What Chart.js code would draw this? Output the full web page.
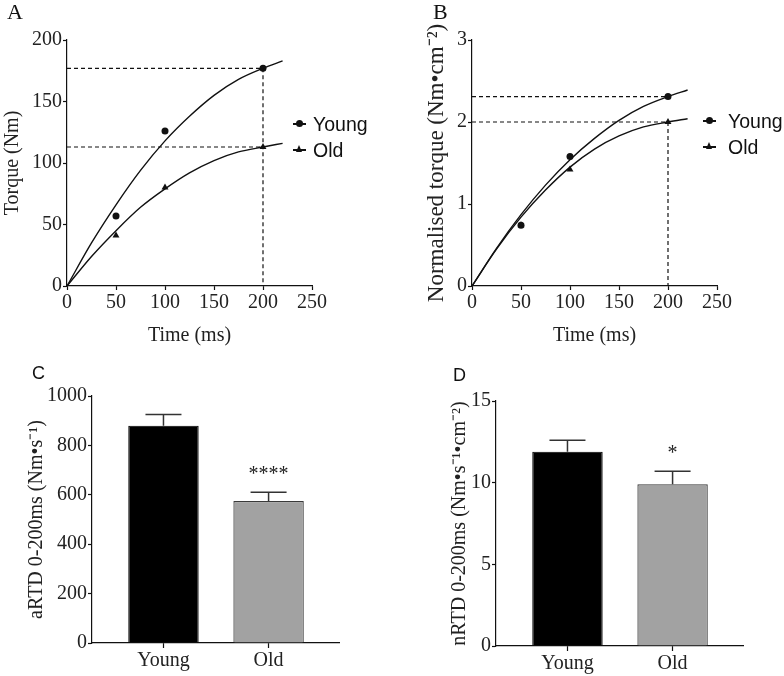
<!DOCTYPE html>
<html>
<head>
<meta charset="utf-8">
<script src="https://cdn.jsdelivr.net/npm/chart.js@4/dist/chart.umd.min.js"></script>
<style>
  body { margin: 0; background: #fff; }
  #fig { position: relative; width: 784px; height: 676px; overflow: hidden; }
  canvas, .lbl, .leg { position: absolute; }
  .lbl { font-family: 'Liberation Serif', serif; font-size: 22px; line-height: 22px; color: #111; }
  .lbl.sans { font-family: 'Liberation Sans', sans-serif; font-size: 18px; }
  .leg { font-family: 'Liberation Sans', sans-serif; font-size: 19.5px; line-height: 26px; color: #111; }
  .leg div { position: relative; height: 26px; }
  .leg i { position: absolute; left: 0; top: 12px; width: 13px; height: 1.5px; background: #111; }
  .leg b { position: absolute; }
  .leg b.dot { left: 3px; top: 9px; width: 7px; height: 7px; border-radius: 50%; background: #111; }
  .leg b.tri { left: 3px; top: 8px; width: 0; height: 0; border-left: 3.5px solid transparent;
               border-right: 3.5px solid transparent; border-bottom: 7px solid #111; }
</style>
</head>
<body>
<div id="fig">
  <canvas id="chartA" width="400" height="350" style="left:0;top:0"></canvas>
  <canvas id="chartB" width="384" height="350" style="left:400px;top:0"></canvas>
  <canvas id="chartC" width="400" height="326" style="left:0;top:350px"></canvas>
  <canvas id="chartD" width="384" height="326" style="left:400px;top:350px"></canvas>

  <div class="lbl" style="left:7px;top:1px">A</div>
  <div class="lbl" style="left:433px;top:1px">B</div>
  <div class="lbl sans" style="left:32px;top:362px">C</div>
  <div class="lbl sans" style="left:453px;top:364px">D</div>

  <div class="leg" style="left:293px;top:111px">
    <div style="padding-left:20px"><i></i><b class="dot"></b>Young</div>
    <div style="padding-left:20px"><i></i><b class="tri"></b>Old</div>
  </div>
  <div class="leg" style="left:703px;top:108px">
    <div style="padding-left:25px"><i></i><b class="dot"></b>Young</div>
    <div style="padding-left:25px"><i></i><b class="tri"></b>Old</div>
  </div>
</div>

<script>
// measured points (ms)
const timeMs = [50, 100, 200];
const youngTorque = [57, 126, 177];
const oldTorque = [41, 80, 113];
const youngNorm = [0.74, 1.58, 2.31];
const oldNorm = [0.74, 1.42, 2.0];

// fitted curves
const fitTime = [0, 25, 50, 75, 100, 125, 150, 175, 200, 220];
const youngTorqueFit = [0, 35, 66, 94, 118, 138, 155, 168, 177, 183];
const oldTorqueFit = [0, 24, 45, 64, 79, 92, 102, 109, 113, 116];
const youngNormFit = [0, 0.46, 0.87, 1.23, 1.54, 1.80, 2.02, 2.19, 2.31, 2.39];
const oldNormFit = [0, 0.45, 0.84, 1.17, 1.45, 1.67, 1.83, 1.94, 2.0, 2.04];

// bar panels
const groups = ['Young', 'Old'];
const artdMean = [880, 575];
const artdSem = [45, 35];
const nrtdMean = [11.9, 9.9];
const nrtdSem = [0.7, 0.8];
const artdStars = ['', '****'];
const nrtdStars = ['', '*'];

const ink = '#111';
Chart.defaults.font.family = "'Liberation Serif', serif";
Chart.defaults.font.size = 20;
Chart.defaults.color = '#222';
Chart.defaults.animation = false;
Chart.defaults.plugins.legend.display = false;
Chart.defaults.plugins.tooltip.enabled = false;

function pts(xs, ys) {
  return xs.map((x, i) => ({ x: x, y: ys[i] }));
}

function axis(min, max, step, size, title, titlePad, titleSize) {
  return {
    type: 'linear', min: min, max: max, offset: false,
    ticks: { stepSize: step, padding: 1, maxRotation: 0, autoSkip: false, callback: v => String(v) },
    grid: { drawOnChartArea: false, offset: false, tickLength: 4, tickColor: ink, tickWidth: 1.2 },
    border: { color: ink, width: 1.2 },
    title: { display: !!title, text: title, padding: titlePad, font: { size: titleSize || 20 } },
    afterFit: s => { if (s.isHorizontal()) s.height = size; else s.width = size; }
  };
}

function line(data, dash, curved) {
  return {
    data: data, showLine: true, borderColor: ink, borderWidth: dash ? 1.2 : 1.4,
    borderDash: dash ? [4, 3] : [], pointRadius: 0, clip: false,
    cubicInterpolationMode: curved ? 'monotone' : 'default'
  };
}

function marks(data, style) {
  return {
    data: data, pointStyle: style, pointRadius: style === 'triangle' ? 4 : 3.5,
    backgroundColor: ink, borderColor: ink, borderWidth: 0, clip: false
  };
}

function timeChart(id, young, old, youngFit, oldFit, yMax, yStep, yWidth, yTitle, yPad, ySize, padRight, youngDrop) {
  const last = timeMs.length - 1;
  const tEnd = timeMs[last];
  const youngGuide = [{ x: 0, y: young[last] }, { x: tEnd, y: young[last] }];
  const oldGuide = [{ x: 0, y: old[last] }, { x: tEnd, y: old[last] }];
  if (youngDrop) youngGuide.push({ x: tEnd, y: 0 }); else oldGuide.push({ x: tEnd, y: 0 });
  new Chart(document.getElementById(id), {
    type: 'scatter',
    data: {
      datasets: [
        marks(pts(timeMs, young), 'circle'),
        marks(pts(timeMs, old), 'triangle'),
        line(pts(fitTime, youngFit), false, true),
        line(pts(fitTime, oldFit), false, true),
        line(youngGuide, true),
        line(oldGuide, true)
      ]
    },
    options: {
      responsive: false,
      layout: { padding: { top: 40, right: padRight, left: 0, bottom: 0 } },
      scales: {
        x: axis(0, 250, 50, 64, 'Time (ms)', { top: 0, bottom: 2 }),
        y: axis(0, yMax, yStep, yWidth, yTitle, yPad, ySize)
      }
    }
  });
}

function errorBars(means, sems, stars) {
  return {
    id: 'errorBars',
    afterDatasetsDraw(chart) {
      const ctx = chart.ctx, xs = chart.scales.x, ys = chart.scales.y;
      ctx.save();
      ctx.strokeStyle = '#333';
      ctx.lineWidth = 1.5;
      means.forEach((m, i) => {
        const px = xs.getPixelForValue(i + 1);
        const base = ys.getPixelForValue(m);
        const top = ys.getPixelForValue(m + sems[i]);
        ctx.beginPath();
        ctx.moveTo(px, base);
        ctx.lineTo(px, top);
        ctx.moveTo(px - 18, top);
        ctx.lineTo(px + 18, top);
        ctx.stroke();
        if (stars[i]) {
          ctx.fillStyle = '#222';
          ctx.font = "20px 'Liberation Serif'";
          ctx.textAlign = 'center';
          ctx.textBaseline = 'alphabetic';
          ctx.fillText(stars[i], px, top - 12);
        }
      });
      ctx.restore();
    }
  };
}

function barChart(id, means, sems, stars, yMax, yStep, yWidth, xHeight, padTop, padRight, yTitle, yPad, ySize) {
  const xAxis = axis(0.32, 2.67, 1, xHeight);
  xAxis.grid.tickLength = 5;
  xAxis.afterBuildTicks = s => { s.ticks = groups.map((g, i) => ({ value: i + 1 })); };
  xAxis.ticks.callback = v => groups[v - 1];
  new Chart(document.getElementById(id), {
    type: 'bar',
    data: {
      datasets: [{
        data: pts(groups.map((g, i) => i + 1), means),
        backgroundColor: ['#000', '#a2a2a2'],
        borderColor: ['#000', '#3a3a3a'],
        borderWidth: 1.2,
        barPercentage: 0.67,
        categoryPercentage: 1
      }]
    },
    options: {
      responsive: false,
      layout: { padding: { top: padTop, right: padRight, left: 0, bottom: 0 } },
      scales: {
        x: xAxis,
        y: axis(0, yMax, yStep, yWidth, yTitle, yPad, ySize)
      }
    },
    plugins: [errorBars(means, sems, stars)]
  });
}

timeChart('chartA', youngTorque, oldTorque, youngTorqueFit, oldTorqueFit, 200, 50, 67,
  'Torque (Nm)', { top: 1 }, 20, 88, true);
timeChart('chartB', youngNorm, oldNorm, youngNormFit, oldNormFit, 3, 1, 72,
  'Normalised torque (Nm\u2022cm\u207B\u00B2)', { top: 23 }, 23, 67, false);

barChart('chartC', artdMean, artdSem, artdStars, 1000, 200, 92, 33, 46, 61,
  'aRTD 0-200ms (Nm\u2022s\u207B\u00B9)', { top: 25 }, 20);
barChart('chartD', nrtdMean, nrtdSem, nrtdStars, 15, 5, 96, 30, 51, 41,
  'nRTD 0-200ms (Nm\u2022s\u207B\u00B9\u2022cm\u207B\u00B2)', { top: 48 }, 20);
</script>
</body>
</html>
